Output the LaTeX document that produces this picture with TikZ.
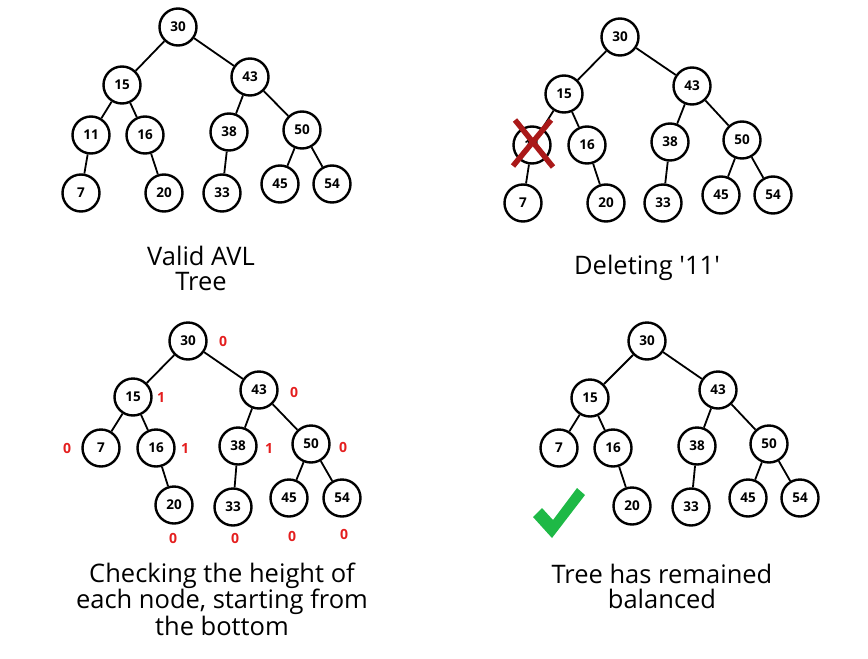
\documentclass[tikz,border=0pt]{standalone}
\usepackage{fontspec}
\setmainfont{Open Sans}
\begin{document}
\begin{tikzpicture}[x=1pt,y=-1pt,
  tn/.style={circle,draw,line width=2.4pt,minimum size=37pt,inner sep=0pt,fill=white,
    font=\fontsize{13.5}{13.5}\selectfont\bfseries},
  ed/.style={line width=1.8pt},
  hl/.style={text={rgb,255:red,228;green,30;blue,30},font=\fontsize{14}{14}\selectfont\bfseries,inner sep=0pt},
  captext/.style={align=center,font=\fontsize{25.5}{25}\selectfont,inner sep=0pt}]
\useasboundingbox (0,0) rectangle (868,659);

% ---------- Tree A (top-left)
\node[tn] (a30) at (178,27) {30};
\node[tn] (a15) at (122,85) {15};
\node[tn] (a43) at (250,77) {43};
\node[tn] (a11) at (91,135) {11};
\node[tn] (a16) at (145,135) {16};
\node[tn] (a38) at (229,132) {38};
\node[tn] (a50) at (302,130) {50};
\node[tn] (a7) at (81,193) {7};
\node[tn] (a20) at (164,193) {20};
\node[tn] (a33) at (222,193) {33};
\node[tn] (a45) at (280,184) {45};
\node[tn] (a54) at (332,184) {54};
\foreach \p/\c in {30/15,30/43,15/11,15/16,11/7,16/20,43/38,43/50,38/33,50/45,50/54}
  \draw[ed] (a\p) -- (a\c);
\node[captext] (capa) at (201,268) {Valid AVL\\Tree};

% ---------- Tree B (top-right)
\node[tn] (b30) at (620,37) {30};
\node[tn] (b15) at (564,94) {15};
\node[tn] (b43) at (692,86) {43};
\node[tn] (b11) at (532,145) {11};
\node[tn] (b16) at (587,145) {16};
\node[tn] (b38) at (670,142) {38};
\node[tn] (b50) at (742,140) {50};
\node[tn] (b7) at (523,203) {7};
\node[tn] (b20) at (606,203) {20};
\node[tn] (b33) at (663,203) {33};
\node[tn] (b45) at (721,195) {45};
\node[tn] (b54) at (773,195) {54};
\foreach \p/\c in {30/15,30/43,15/11,15/16,11/7,16/20,43/38,43/50,38/33,50/45,50/54}
  \draw[ed] (b\p) -- (b\c);
\coordinate (x1) at (515,120); \coordinate (x2) at (553,167);
\coordinate (x3) at (551,120); \coordinate (x4) at (513,166);
\draw[line width=5.5pt,color={rgb,255:red,170;green,25;blue,25}] (x1) -- (x2) (x3) -- (x4);
\node[captext] (capb) at (647,268) {Deleting \textquotesingle11\textquotesingle};

% ---------- Tree C (bottom-left)
\node[tn] (c30) at (188,341) {30};
\node[tn] (c15) at (133,397) {15};
\node[tn] (c43) at (259,390) {43};
\node[tn] (c7) at (101,448) {7};
\node[tn] (c16) at (156,448) {16};
\node[tn] (c38) at (238,446) {38};
\node[tn] (c50) at (311,444) {50};
\node[tn] (c20) at (174,505) {20};
\node[tn] (c33) at (233,507) {33};
\node[tn] (c45) at (289,498) {45};
\node[tn] (c54) at (342,498) {54};
\foreach \p/\c in {30/15,30/43,15/7,15/16,16/20,43/38,43/50,38/33,50/45,50/54}
  \draw[ed] (c\p) -- (c\c);
\node[hl] (h30) at (223,341) {0};
\node[hl] (h15) at (161,397) {1};
\node[hl] (h43) at (294,392) {0};
\node[hl] (h7) at (67,448) {0};
\node[hl] (h16) at (185,448) {1};
\node[hl] (h38) at (269,448) {1};
\node[hl] (h50) at (343,447) {0};
\node[hl] (h20) at (173,538) {0};
\node[hl] (h33) at (235,538) {0};
\node[hl] (h45) at (292,536) {0};
\node[hl] (h54) at (344,534) {0};
\node[captext] (capc) at (222,599) {Checking the height of\\each node, starting from\\the bottom};

% ---------- Tree D (bottom-right)
\node[tn] (d30) at (647,341) {30};
\node[tn] (d15) at (590,398) {15};
\node[tn] (d43) at (718,390) {43};
\node[tn] (d7) at (559,448) {7};
\node[tn] (d16) at (613,448) {16};
\node[tn] (d38) at (697,446) {38};
\node[tn] (d50) at (769,444) {50};
\node[tn] (d20) at (632,506) {20};
\node[tn] (d33) at (691,507) {33};
\node[tn] (d45) at (748,498) {45};
\node[tn] (d54) at (800,498) {54};
\foreach \p/\c in {30/15,30/43,15/7,15/16,16/20,43/38,43/50,38/33,50/45,50/54}
  \draw[ed] (d\p) -- (d\c);
\fill[color={rgb,255:red,30;green,185;blue,70}] (533,517) -- (542,508) -- (553,520) -- (577,488) -- (585,495) -- (552,538) -- cycle;
\node[captext] (capd) at (662,586) {Tree has remained\\balanced};
\end{tikzpicture}
\end{document}
